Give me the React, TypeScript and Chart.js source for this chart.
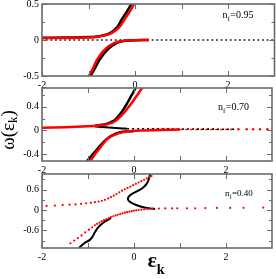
import React, { useEffect, useRef } from 'react';
import Chart from 'chart.js/auto';

// ---------- data (epsilon_k, omega) ----------
const xMajorTicks = [-2, 0, 2];
const xMinorTicks = [-1, 1];

// panel 1 : n_f = 0.95
const p1BlackUpper = [[-2.0, 0.03], [-1.5, 0.035], [-1.0, 0.04], [-0.8, 0.05], [-0.68, 0.065], [-0.59, 0.08], [-0.5, 0.11], [-0.41, 0.16], [-0.35, 0.21], [-0.29, 0.28], [-0.22, 0.35], [-0.15, 0.42], [-0.08, 0.5]];
const p1RedUpper = [[-2.0, 0.025], [-1.5, 0.028], [-1.0, 0.035], [-0.8, 0.045], [-0.68, 0.06], [-0.57, 0.08], [-0.47, 0.11], [-0.37, 0.16], [-0.3, 0.21], [-0.23, 0.28], [-0.16, 0.35], [-0.09, 0.42], [-0.02, 0.5]];
const p1BlackLower = [[-0.96, -0.5], [-0.86, -0.39], [-0.77, -0.28], [-0.68, -0.2], [-0.6, -0.14], [-0.5, -0.085], [-0.41, -0.046], [-0.3, -0.022], [-0.16, -0.01], [0.0, -0.004], [0.3, 0.0]];
const p1RedLower = [[-0.99, -0.5], [-0.9, -0.39], [-0.82, -0.28], [-0.74, -0.2], [-0.66, -0.14], [-0.56, -0.085], [-0.46, -0.046], [-0.34, -0.02], [-0.2, -0.008], [0.0, -0.002], [0.3, 0.0]];
const p1FlatLevel = [[-2, 0.0], [3, 0.0]];

// panel 2 : n_f = 0.70
const p2BlackUpper = [[-0.85, 0.08], [-0.7, 0.095], [-0.6, 0.11], [-0.5, 0.14], [-0.41, 0.18], [-0.33, 0.25], [-0.24, 0.34], [-0.16, 0.44], [-0.08, 0.55], [0.0, 0.66], [0.04, 0.72]];
const p2RedUpper = [[-2.0, 0.045], [-1.5, 0.055], [-1.0, 0.07], [-0.8, 0.08], [-0.65, 0.095], [-0.55, 0.11], [-0.45, 0.14], [-0.37, 0.18], [-0.26, 0.26], [-0.16, 0.35], [-0.05, 0.46], [0.06, 0.58], [0.15, 0.68], [0.19, 0.72]];
const p2BlackMiddle = [[-0.85, 0.065], [-0.7, 0.058], [-0.55, 0.05], [-0.4, 0.042], [-0.25, 0.035], [-0.15, 0.03]];
const p2BlackTail = [[-0.15, 0.03], [2.2, 0.02]];
const p2RedTail = [[0.3, 0.015], [2.2, 0.018]];
const p2RedDots = [[2.27, 0.02], [2.45, 0.02], [2.59, 0.02], [2.74, 0.02], [2.9, 0.02]];
const p2BlackLower = [[-1.02, -0.51], [-0.92, -0.42], [-0.82, -0.33], [-0.72, -0.24], [-0.62, -0.16], [-0.52, -0.1], [-0.42, -0.06], [-0.3, -0.03], [-0.15, -0.015], [0.0, -0.01]];
const p2RedLower = [[-0.95, -0.51], [-0.86, -0.41], [-0.77, -0.32], [-0.68, -0.23], [-0.59, -0.15], [-0.5, -0.1], [-0.41, -0.07], [-0.3, -0.04], [-0.2, -0.025], [-0.05, -0.01], [0.2, 0.0], [0.6, 0.01], [1.0, 0.015]];

// panel 3 : n_f = 0.40
const p3RedUpper = [[-1.9, 0.12], [-1.72, 0.13], [-1.55, 0.145], [-1.4, 0.155], [-1.27, 0.165], [-1.15, 0.18], [-1.04, 0.195], [-0.94, 0.21], [-0.85, 0.23], [-0.77, 0.25], [-0.7, 0.27], [-0.63, 0.3], [-0.56, 0.34], [-0.5, 0.38], [-0.44, 0.42], [-0.38, 0.47], [-0.32, 0.52], [-0.26, 0.57], [-0.2, 0.61], [-0.14, 0.65], [-0.08, 0.69], [-0.02, 0.73], [0.04, 0.77], [0.1, 0.81], [0.16, 0.85], [0.22, 0.89], [0.28, 0.93], [0.33, 0.96], [0.38, 1.0]];
const p3RedLower = [[-1.38, -0.98], [-1.3, -0.9], [-1.22, -0.83], [-1.14, -0.75], [-1.06, -0.66], [-0.98, -0.58], [-0.91, -0.51], [-0.85, -0.45], [-0.8, -0.41], [-0.75, -0.37], [-0.7, -0.33], [-0.65, -0.3], [-0.6, -0.27], [-0.55, -0.24], [-0.5, -0.21], [-0.45, -0.185], [-0.4, -0.16], [-0.35, -0.14], [-0.3, -0.12], [-0.25, -0.1], [-0.2, -0.08], [-0.15, -0.065], [-0.1, -0.05], [-0.05, -0.035], [0.0, -0.02], [0.05, -0.01], [0.1, 0.0], [0.16, 0.01], [0.22, 0.02], [0.28, 0.03], [0.34, 0.035], [0.4, 0.04]];
const p3RedFlat = [[0.54, 0.04], [0.68, 0.045], [0.83, 0.045], [0.94, 0.05], [1.15, 0.05], [1.33, 0.05], [1.55, 0.055], [1.8, 0.06], [2.09, 0.06], [2.38, 0.065], [2.81, 0.07]];
const p3BlackS = [[0.35, 1.06], [0.32, 0.9], [0.27, 0.76], [0.18, 0.64], [0.05, 0.54], [-0.06, 0.46], [-0.12, 0.38], [-0.13, 0.31], [-0.09, 0.24], [-0.01, 0.18], [0.08, 0.13], [0.18, 0.09], [0.28, 0.06], [0.38, 0.04], [0.46, 0.03]];
const p3BlackLower = [[-1.2, -1.12], [-1.08, -0.98], [-0.96, -0.88], [-0.9, -0.78], [-0.86, -0.68], [-0.8, -0.55], [-0.74, -0.46], [-0.66, -0.37], [-0.58, -0.3], [-0.5, -0.24]];

const panelLabels = ['0.95', '0.70', '0.40'];

// ---------- styling ----------
const RED = '#ff0000';
const BLACK = '#000000';
const FRAME = '#6a6a6a';
const SERIF = '"Liberation Serif", "DejaVu Serif", serif';

const toPts = (a: number[][]) => a.map(([x, y]) => ({ x, y }));

const lineDs = (data: number[][], color: string, order: number, width = 2.5, extra: any = {}) => ({
  data: toPts(data),
  borderColor: color,
  backgroundColor: color,
  borderWidth: width,
  showLine: true,
  pointRadius: 0,
  tension: 0.4,
  order,
  ...extra,
});

const dotDs = (data: number[][], color: string, order: number, r = 1.1) => ({
  data: toPts(data),
  borderColor: color,
  backgroundColor: color,
  showLine: false,
  pointRadius: r,
  pointBorderWidth: 0,
  order,
});

const framePlugin = {
  id: 'frame',
  afterDatasetsDraw(chart: any, _args: any, opts: any) {
    const { ctx, chartArea: a, scales } = chart;
    const xs = scales.x;
    const ys = scales.y;
    ctx.save();
    ctx.strokeStyle = FRAME;
    ctx.lineWidth = 1;
    const seg = (x1: number, y1: number, x2: number, y2: number) => {
      ctx.beginPath();
      ctx.moveTo(x1, y1);
      ctx.lineTo(x2, y2);
      ctx.stroke();
    };
    const xt = (vals: number[], len: number) =>
      vals.forEach((v) => {
        const px = Math.round(xs.getPixelForValue(v)) + 0.5;
        seg(px, a.bottom, px, a.bottom - len);
        seg(px, a.top, px, a.top + len);
      });
    const yt = (vals: number[], len: number) =>
      vals.forEach((v) => {
        const py = Math.round(ys.getPixelForValue(v)) + 0.5;
        seg(a.left, py, a.left + len, py);
        seg(a.right, py, a.right - len, py);
      });
    xt(opts.xMajor, 5);
    xt(opts.xMinor, 5);
    yt(opts.yMajor, 5);
    yt(opts.yMinor, 3);
    ctx.lineWidth = 1.6;
    ctx.strokeRect(a.left, a.top, a.right - a.left, a.bottom - a.top);

    // panel annotation n_f = ...
    ctx.fillStyle = '#000';
    ctx.textBaseline = 'alphabetic';
    ctx.textAlign = 'left';
    const fs = opts.labelSize;
    let x = a.right - opts.labelRight;
    const y = a.top + opts.labelDy;
    ctx.font = `${fs}px ${SERIF}`;
    ctx.fillText('n', x, y);
    x += ctx.measureText('n').width;
    ctx.font = `${Math.round(fs * 0.7)}px ${SERIF}`;
    ctx.fillText('f', x, y + 3);
    x += ctx.measureText('f').width + 0.5;
    ctx.font = `${fs}px ${SERIF}`;
    ctx.fillText('=' + opts.label, x, y);

    if (opts.titles) {
      // x title: epsilon_k
      ctx.font = `bold 22px ${SERIF}`;
      const we = ctx.measureText('ε').width;
      ctx.font = `bold 14px ${SERIF}`;
      const wk = ctx.measureText('k').width;
      const cx = (a.left + a.right) / 2 - 1;
      let tx = cx - (we + wk) / 2;
      ctx.font = `bold 22px ${SERIF}`;
      ctx.fillText('ε', tx, 267);
      tx += we;
      ctx.font = `bold 14px ${SERIF}`;
      ctx.fillText('k', tx, 274);

      // y title: omega(epsilon_k)
      ctx.save();
      ctx.translate(9.5, 130);
      ctx.rotate(-Math.PI / 2);
      ctx.textBaseline = 'middle';
      ctx.font = `19px ${SERIF}`;
      const w1 = ctx.measureText('ω(ε').width;
      const w3 = ctx.measureText(')').width;
      ctx.font = `13px ${SERIF}`;
      const w2 = ctx.measureText('k').width;
      let ty = -(w1 + w2 + w3) / 2;
      ctx.font = `19px ${SERIF}`;
      ctx.fillText('ω(ε', ty, 0);
      ty += w1;
      ctx.font = `13px ${SERIF}`;
      ctx.fillText('k', ty, 4);
      ty += w2;
      ctx.font = `19px ${SERIF}`;
      ctx.fillText(')', ty, 0);
      ctx.restore();
    }
    ctx.restore();
  },
};

type Panel = {
  datasets: any[];
  yMin: number;
  yMax: number;
  yMajor: number[];
  yMinor: number[];
  padTop: number;
  padBottom: number;
  label: string;
  labelRight: number;
  labelDy: number;
  labelSize: number;
  titles: boolean;
};

const panels: Panel[] = [
  {
    datasets: [
      lineDs(p1RedUpper, RED, 0),
      lineDs(p1RedLower, RED, 0),
      lineDs(p1BlackUpper, BLACK, 1),
      lineDs(p1BlackLower, BLACK, 1),
      lineDs(p1FlatLevel, '#444', 2, 1.8, { tension: 0, borderDash: [0.3, 4.3], borderCapStyle: 'round' }),
    ],
    yMin: -0.5, yMax: 0.5, yMajor: [-0.5, 0, 0.5], yMinor: [-0.25, 0.25],
    padTop: 4, padBottom: 189,
    label: panelLabels[0], labelRight: 52, labelDy: 14, labelSize: 10, titles: false,
  },
  {
    datasets: [
      lineDs(p2RedUpper, RED, 0),
      lineDs(p2RedLower, RED, 0),
      dotDs(p2RedDots, RED, 0, 1.2),
      lineDs(p2BlackUpper, BLACK, 1),
      lineDs(p2BlackLower, BLACK, 1),
      lineDs(p2BlackMiddle, BLACK, 1, 2),
      lineDs(p2BlackTail, BLACK, 1, 1.6, { tension: 0, borderDash: [2, 3] }),
      lineDs(p2RedTail, RED, 2, 1.6, { tension: 0, borderDash: [2, 3], borderDashOffset: 2.5 }),
    ],
    yMin: -0.51, yMax: 0.71, yMajor: [-0.4, 0, 0.4], yMinor: [-0.2, 0.2, 0.6],
    padTop: 88, padBottom: 104,
    label: panelLabels[1], labelRight: 54, labelDy: 22, labelSize: 10, titles: false,
  },
  {
    datasets: [
      dotDs(p3RedUpper, RED, 0),
      dotDs(p3RedLower, RED, 0),
      dotDs(p3RedFlat, RED, 0),
      lineDs(p3BlackS, BLACK, 1, 2),
      lineDs(p3BlackLower, BLACK, 1, 2),
    ],
    yMin: -1.12, yMax: 1.06, yMajor: [-0.6, 0, 0.6], yMinor: [-0.9, -0.3, 0.3, 0.9],
    padTop: 174, padBottom: 17,
    label: panelLabels[2], labelRight: 47, labelDy: 22, labelSize: 9, titles: true,
  },
];

function makeChart(canvas: HTMLCanvasElement, p: Panel) {
  const tickFont = { family: SERIF, size: 10 };
  return new Chart(canvas, {
    type: 'scatter',
    data: { datasets: p.datasets },
    plugins: [framePlugin],
    options: {
      responsive: false,
      animation: false,
      devicePixelRatio: 1,
      layout: { padding: { left: 0, right: 1.5, top: p.padTop, bottom: p.padBottom } },
      plugins: {
        legend: { display: false },
        tooltip: { enabled: false },
        frame: {
          xMajor: xMajorTicks, xMinor: xMinorTicks, yMajor: p.yMajor, yMinor: p.yMinor,
          label: p.label, labelRight: p.labelRight, labelDy: p.labelDy, labelSize: p.labelSize,
          titles: p.titles,
        },
      } as any,
      scales: {
        x: {
          type: 'linear',
          min: -2,
          max: 3,
          grid: { display: false, drawTicks: false },
          border: { display: false },
          ticks: { font: tickFont, color: '#000', padding: 3, maxRotation: 0, autoSkip: false, callback: (v: any) => String(v) },
          afterBuildTicks: (s: any) => { s.ticks = xMajorTicks.map((v) => ({ value: v })); },
          afterFit: (s: any) => { s.height = 14; s.paddingLeft = 0; s.paddingRight = 0; },
        },
        y: {
          type: 'linear',
          min: p.yMin,
          max: p.yMax,
          grid: { display: false, drawTicks: false },
          border: { display: false },
          ticks: { font: tickFont, color: '#000', padding: 3, autoSkip: false, callback: (v: any) => String(v) },
          afterBuildTicks: (s: any) => { s.ticks = p.yMajor.map((v) => ({ value: v })); },
          afterFit: (s: any) => { s.width = 42; s.paddingTop = 0; s.paddingBottom = 0; },
        },
      },
    } as any,
  });
}

export default function App() {
  const r0 = useRef<HTMLCanvasElement>(null);
  const r1 = useRef<HTMLCanvasElement>(null);
  const r2 = useRef<HTMLCanvasElement>(null);

  useEffect(() => {
    const refs = [r0, r1, r2];
    const charts = refs.map((r, i) => makeChart(r.current as HTMLCanvasElement, panels[i]));
    return () => charts.forEach((c) => c.destroy());
  }, []);

  const cs: React.CSSProperties = { position: 'absolute', left: 0, top: 0, width: 276, height: 279 };
  return (
    <div style={{ position: 'fixed', left: 0, top: 0, width: 276, height: 279, background: '#fff' }}>
      <canvas ref={r0} width={276} height={279} style={cs} />
      <canvas ref={r1} width={276} height={279} style={cs} />
      <canvas ref={r2} width={276} height={279} style={cs} />
    </div>
  );
}
